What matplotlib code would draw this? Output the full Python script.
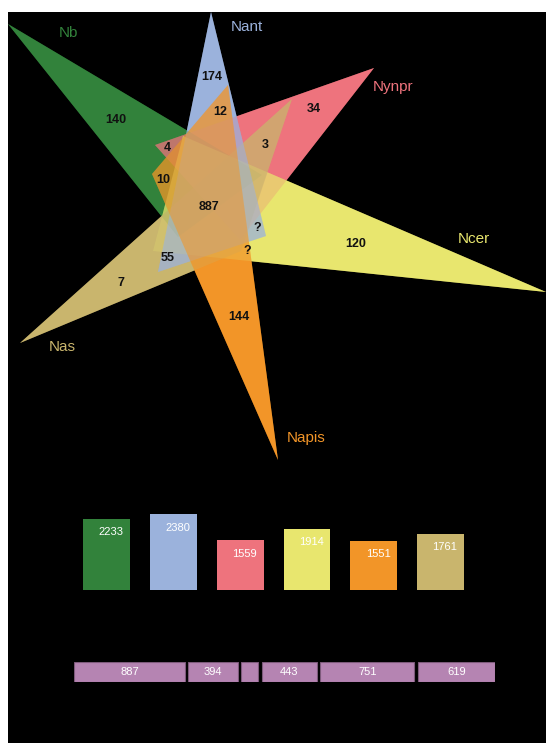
import matplotlib
matplotlib.use("Agg")
import matplotlib.pyplot as plt
from matplotlib.patches import Polygon, Rectangle

W, H = 546, 743
DPI = 100
FONT = ["Liberation Sans", "DejaVu Sans"]
plt.rcParams["font.family"] = FONT

# ---- data -------------------------------------------------------------
species = ["Nb", "Nant", "Nynpr", "Ncer", "Napis", "Nas"]
gene_counts = [2233, 2380, 1559, 1914, 1551, 1761]

region_labels = ["140", "174", "12", "34", "4", "3", "10", "887",
                 "?", "?", "120", "55", "7", "144"]

core_values = [887, 394, 135, 443, 751, 619]
core_labels = ["887", "394", "", "443", "751", "619"]

# ---- styling ----------------------------------------------------------
colors = {
    "Nb": "#32823b",
    "Nant": "#9bb2dc",
    "Nynpr": "#ee737d",
    "Ncer": "#e8e66e",
    "Napis": "#f29528",
    "Nas": "#c9b56d",
}

# triangle outlines in canvas pixels (tip first, then the two base corners)
triangles = {
    "Nb": [(8, 24), (262, 175), (178, 237)],
    "Nant": [(211, 12), (158, 272), (266, 236)],
    "Nynpr": [(374, 68), (155, 145), (240, 240)],
    "Ncer": [(546, 292), (183, 136), (153, 251)],
    "Napis": [(278, 460), (228, 85), (152, 174)],
    "Nas": [(20, 343), (292, 99), (241, 251)],
}
draw_order = ["Nb", "Nynpr", "Ncer", "Nas", "Nant", "Napis"]

name_pos = {
    "Nb": (68, 33), "Nant": (247, 27), "Nynpr": (393, 87),
    "Ncer": (474, 239), "Napis": (306, 438), "Nas": (62, 347),
}
region_pos = [(116, 120), (212, 77), (220, 112), (314, 109), (167, 148),
              (265, 145), (163, 180), (209, 207), (257, 228), (247, 251),
              (356, 244), (168, 258), (121, 283), (239, 317)]

fig = plt.figure(figsize=(W / DPI, H / DPI), dpi=DPI, facecolor="white")

# ---- Venn canvas ------------------------------------------------------
ax = fig.add_axes([0, 0, 1, 1])
ax.set_xlim(0, W)
ax.set_ylim(H, 0)
ax.axis("off")
ax.add_patch(Rectangle((8, 12), W - 8, H - 12, facecolor="black",
                       edgecolor="none", zorder=0))

# solid pass, then a translucent pass so overlaps blend the set colours
for alpha, zbase in [(1.0, 1), (0.5, 10)]:
    for k, name in enumerate(draw_order):
        ax.add_patch(Polygon(triangles[name], closed=True,
                             facecolor=colors[name], edgecolor="none",
                             alpha=alpha, zorder=zbase + k))

for name in species:
    x, y = name_pos[name]
    ax.text(x, y, name, color=colors[name], fontsize=11, ha="center",
            va="center", zorder=30)

for lab, (x, y) in zip(region_labels, region_pos):
    ax.text(x, y, lab, color="#111111", fontsize=9, fontweight="bold",
            ha="center", va="center", zorder=30)

# ---- gene count bars ---------------------------------------------------
px_per_unit = 0.0318
ax_bar = fig.add_axes([73.1 / W, 1 - 590 / H, 401 / W, 90 / H])
ax_bar.set_xlim(-0.5, 5.5)
ax_bar.set_ylim(0, 90 / px_per_unit)
ax_bar.axis("off")
ax_bar.patch.set_alpha(0)
xs = list(range(len(species)))
ax_bar.bar(xs, gene_counts, width=0.70,
           color=[colors[s] for s in species], edgecolor="none")
for x, v in zip(xs, gene_counts):
    ax_bar.annotate(str(v), (x, v), xytext=(3, -9.5),
                    textcoords="offset points", ha="center", va="center",
                    color="white", fontsize=8)

# ---- shared core bar ---------------------------------------------------
gap = 28
lefts = []
acc = 0
for v in core_values:
    lefts.append(acc)
    acc += v + gap
total = acc - gap
ax_core = fig.add_axes([74 / W, 1 - 682 / H, 421.3 / W, 20 / H])
ax_core.set_xlim(0, total)
ax_core.set_ylim(-0.5, 0.5)
ax_core.axis("off")
ax_core.patch.set_alpha(0)
ax_core.barh(0, core_values, left=lefts, height=1.0, color="#b584b2",
             edgecolor="#7d5a7b", linewidth=0.8)
for l, v, lab in zip(lefts, core_values, core_labels):
    ax_core.text(l + v / 2, 0, lab, ha="center", va="center",
                 color="white", fontsize=8)

fig.savefig("out.png", dpi=DPI, facecolor="white")
